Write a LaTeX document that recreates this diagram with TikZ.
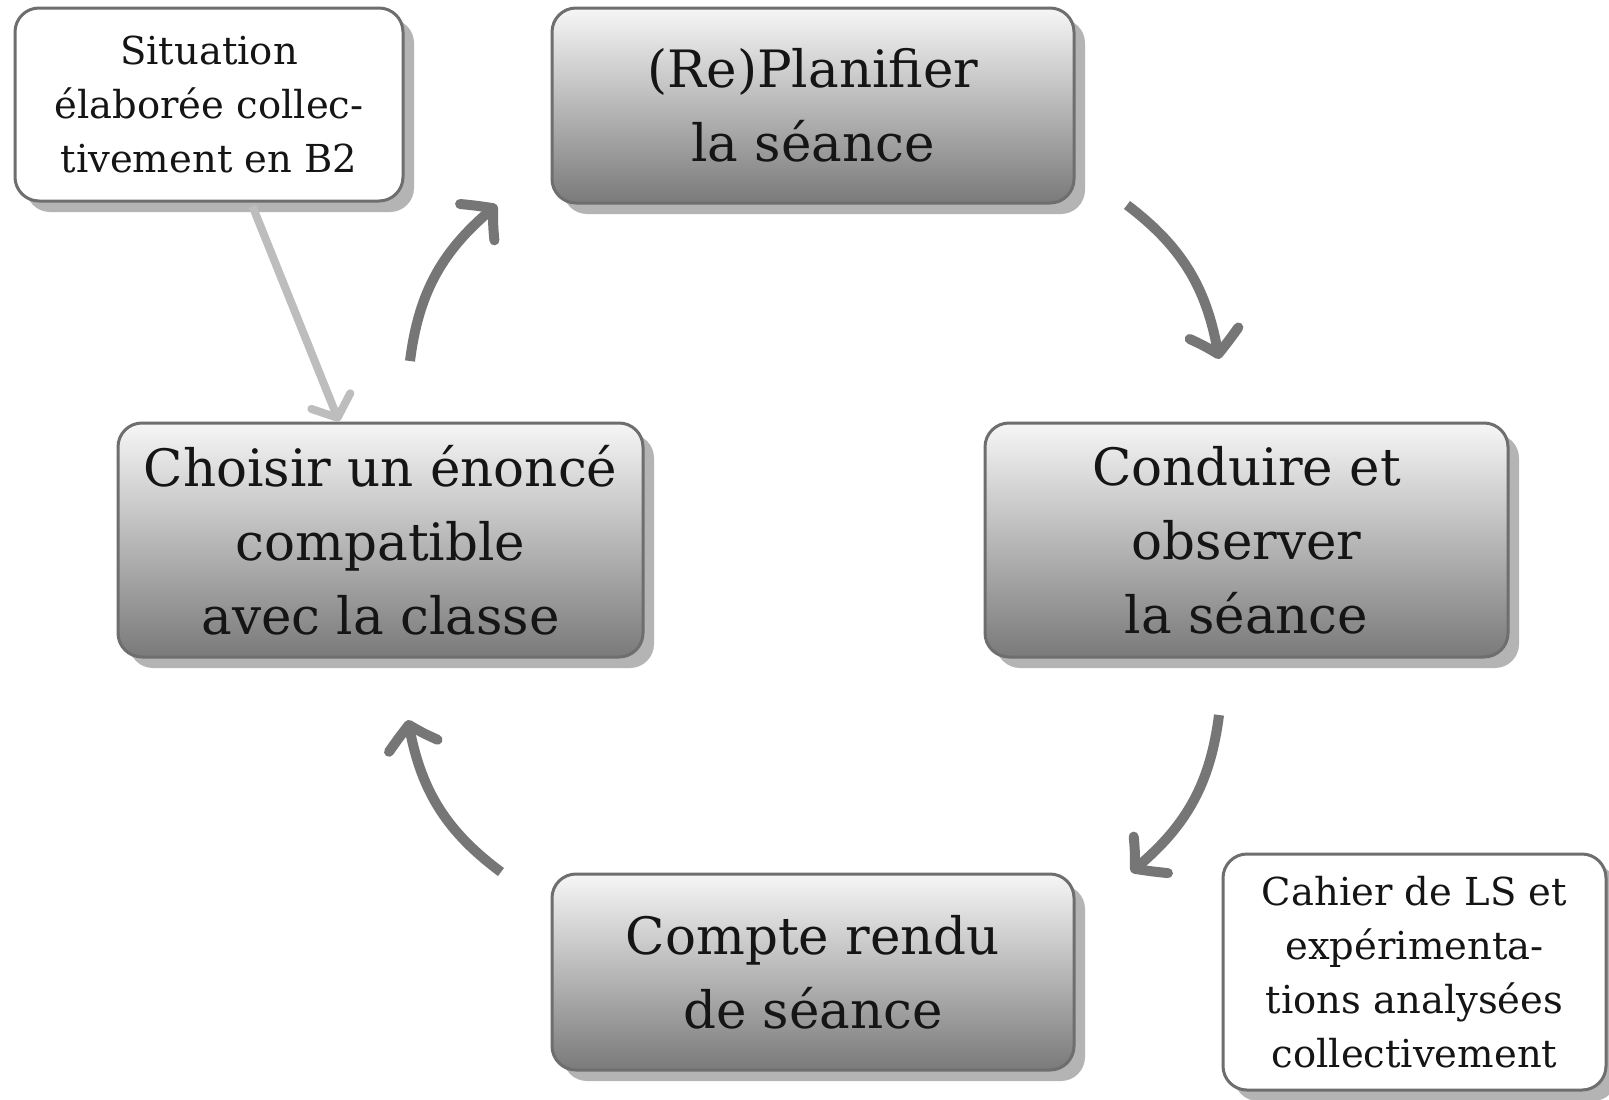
\documentclass[tikz,border=0pt]{standalone}
\usepackage{fontspec}
\setmainfont{DejaVu Serif}
\usetikzlibrary{arrows.meta,shadows,bending}
\definecolor{bordc}{HTML}{6E6E6E}
\definecolor{arrc}{HTML}{767676}
\definecolor{lightarr}{HTML}{BDBDBD}
\definecolor{shadc}{HTML}{B4B4B4}
\definecolor{topc}{HTML}{F6F6F6}
\definecolor{botc}{HTML}{7A7A7A}
\definecolor{txtc}{HTML}{151515}
\begin{document}
\begin{tikzpicture}[x=1pt,y=1pt,
  box/.style={draw=bordc, line width=3pt, rounded corners=24pt, align=center, inner sep=0pt, text=txtc,
    drop shadow={shadow xshift=11pt, shadow yshift=-11pt, fill=shadc, opacity=1}},
  mainbox/.style={box, top color=topc, bottom color=botc, font=\fontsize{51.5}{74}\selectfont},
  notebox/.style={box, fill=white, font=\fontsize{38.5}{54}\selectfont},
  cyc/.style={draw=arrc, line width=10pt, -{Straight Barb[length=22pt,width=50pt,round,bend]}},
  feed/.style={draw=lightarr, line width=8pt, -{Straight Barb[length=18pt,width=42pt,round]}}
]
\useasboundingbox (0,0) rectangle (1609,-1100);
\fill[white] (0,0) rectangle (1609,-1100);

\node[notebox, minimum width=388pt, minimum height=193pt] (sit) at (209,-104.5)
  {Situation\\élaborée collec-\\tivement en B2};
\node[mainbox, minimum width=522pt, minimum height=195pt] (plan) at (813,-105.5)
  {(Re)Planifier\\la séance};
\node[mainbox, minimum width=525pt, minimum height=234pt] (choisir) at (380.5,-540)
  {Choisir un énoncé\\compatible\\avec la classe};
\node[mainbox, minimum width=523pt, minimum height=234pt] (conduire) at (1246.5,-540)
  {Conduire et\\observer\\la séance};
\node[mainbox, minimum width=522pt, minimum height=196pt] (compte) at (813,-972)
  {Compte rendu\\de séance};
\node[notebox, minimum width=383pt, minimum height=236pt] (cahier) at (1414.5,-972)
  {Cahier de LS et\\expérimenta-\\tions analysées\\collectivement};

\coordinate (a1s) at (410,-361);  \coordinate (a1e) at (497,-205);
\coordinate (a2s) at (1127,-205); \coordinate (a2e) at (1219,-359);
\coordinate (a3s) at (1219,-715); \coordinate (a3e) at (1131,-872);
\coordinate (a4s) at (501,-872);  \coordinate (a4e) at (408,-720);

\draw[cyc] (a1s) to[bend left=22] (a1e);
\draw[cyc] (a2s) to[bend left=22] (a2e);
\draw[cyc] (a3s) to[bend left=22] (a3e);
\draw[cyc] (a4s) to[bend left=22] (a4e);

\draw[feed, shorten <=4pt] ([xshift=42pt]sit.south) -- ([xshift=-41.5pt]choisir.north);
\end{tikzpicture}
\end{document}
